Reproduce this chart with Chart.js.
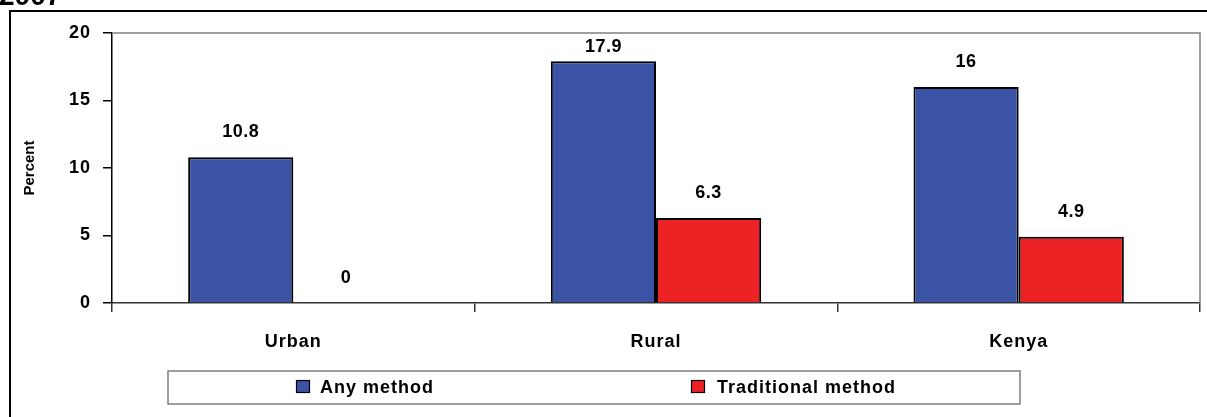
<!DOCTYPE html>
<html>
<head>
<meta charset="utf-8">
<script src="https://cdn.jsdelivr.net/npm/chart.js@4/dist/chart.umd.min.js"></script>
<style>
  html, body { margin: 0; padding: 0; background: #fff; }
  #wrap { width: 1207px; height: 417px; position: relative; }
</style>
</head>
<body>
<div id="wrap"><canvas id="c" width="1207" height="417"></canvas></div>
<script>
// Contraceptive use by residence, 2007
const categories = ['Urban', 'Rural', 'Kenya'];
const seriesNames = ['Any method', 'Traditional method'];
const anyMethod = [10.8, 17.9, 16];
const traditionalMethod = [0, 6.3, 4.9];
const yTicks = [0, 5, 10, 15, 20];
const titleText = '2007';
const axisTitle = 'Percent';

const BLUE = '#3A53A4';
const RED = '#ED2224';
const FONT = '"Liberation Sans", Arial, sans-serif';

// Frame, partially visible heading, plot-area border, value labels, axis title and legend box
const decorations = {
  id: 'decorations',
  beforeDraw(chart) {
    const ctx = chart.ctx;
    ctx.save();
    ctx.fillStyle = '#fff';
    ctx.fillRect(0, 0, chart.width, chart.height);
    // heading (clipped by the top edge)
    ctx.fillStyle = '#000';
    ctx.font = 'bold 28px ' + FONT;
    ctx.textBaseline = 'alphabetic';
    ctx.textAlign = 'left';
    ctx.fillText(titleText, -1, 5);
    // outer frame
    ctx.strokeStyle = '#000';
    ctx.lineWidth = 2;
    ctx.beginPath();
    ctx.moveTo(10, chart.height + 2);
    ctx.lineTo(10, 11);
    ctx.lineTo(chart.width + 2, 11);
    ctx.stroke();
    // y axis title
    const a = chart.chartArea;
    ctx.translate(30, (a.top + a.bottom) / 2);
    ctx.rotate(-Math.PI / 2);
    ctx.font = 'bold 15px ' + FONT;
    ctx.textAlign = 'center';
    ctx.textBaseline = 'middle';
    ctx.fillText(axisTitle, 0, 0);
    ctx.restore();
    chart.ctx.letterSpacing = '1px';
  },
  afterDatasetsDraw(chart) {
    const ctx = chart.ctx;
    const a = chart.chartArea;
    ctx.save();
    // plot area top/right border
    ctx.strokeStyle = '#808080';
    ctx.lineWidth = 1.5;
    ctx.beginPath();
    ctx.moveTo(a.left, a.top);
    ctx.lineTo(a.right, a.top);
    ctx.lineTo(a.right, a.bottom);
    ctx.stroke();
    // value labels, kept inside the plot area
    ctx.fillStyle = '#000';
    ctx.font = 'bold 18px ' + FONT;
    ctx.letterSpacing = '0.5px';
    ctx.textAlign = 'center';
    ctx.textBaseline = 'alphabetic';
    chart.data.datasets.forEach((ds, i) => {
      const meta = chart.getDatasetMeta(i);
      meta.data.forEach((bar, j) => {
        const y = Math.max(bar.y - 20, a.top + 19);
        ctx.fillText(String(ds.data[j]), bar.x, y);
      });
    });
    ctx.restore();
  },
  afterDraw(chart) {
    const ctx = chart.ctx;
    ctx.save();
    // legend
    ctx.strokeStyle = '#808080';
    ctx.lineWidth = 1.5;
    ctx.strokeRect(168, 371, 852, 33);
    const items = [
      { sx: 296, tx: 320 },
      { sx: 691, tx: 717 }
    ];
    ctx.font = 'bold 18px ' + FONT;
    ctx.letterSpacing = '1px';
    ctx.textAlign = 'left';
    ctx.textBaseline = 'alphabetic';
    chart.data.datasets.forEach((ds, i) => {
      const it = items[i];
      ctx.fillStyle = ds.backgroundColor;
      ctx.fillRect(it.sx, 380, 14, 13);
      ctx.strokeStyle = '#000';
      ctx.lineWidth = 1.2;
      ctx.strokeRect(it.sx + 0.5, 380.5, 13, 12);
      ctx.fillStyle = '#000';
      ctx.fillText(ds.label, it.tx, 393);
    });
    ctx.restore();
    chart.ctx.letterSpacing = '0px';
  }
};

new Chart(document.getElementById('c'), {
  type: 'bar',
  data: {
    labels: categories,
    datasets: [
      {
        label: seriesNames[0],
        data: anyMethod,
        backgroundColor: BLUE,
        borderColor: '#000',
        borderWidth: 2
      },
      {
        label: seriesNames[1],
        data: traditionalMethod,
        backgroundColor: RED,
        borderColor: '#000',
        borderWidth: 2
      }
    ]
  },
  options: {
    responsive: false,
    animation: false,
    devicePixelRatio: 1,
    layout: { padding: { top: 33, right: 7, left: 0, bottom: 0 } },
    datasets: {
      bar: { categoryPercentage: 0.58, barPercentage: 1.0 }
    },
    plugins: {
      legend: { display: false },
      tooltip: { enabled: false },
      title: { display: false }
    },
    scales: {
      x: {
        offset: true,
        afterFit(scale) { scale.height = 114; },
        grid: {
          offset: true,
          drawOnChartArea: false,
          drawTicks: true,
          tickLength: 9,
          color: '#333',
          lineWidth: 1.5
        },
        border: { display: true, color: '#333', width: 1.5 },
        ticks: {
          color: '#000',
          padding: 19,
          maxRotation: 0,
          font: { family: FONT, size: 18, weight: 'bold' }
        }
      },
      y: {
        min: 0,
        max: 20,
        afterFit(scale) { scale.width = 112; },
        afterBuildTicks(scale) { scale.ticks = yTicks.map(v => ({ value: v })); },
        grid: {
          drawOnChartArea: false,
          drawTicks: true,
          tickLength: 9,
          color: '#000',
          lineWidth: 1.5
        },
        border: { display: true, color: '#000', width: 1.5 },
        ticks: {
          color: '#000',
          padding: 12,
          font: { family: FONT, size: 18, weight: 'bold' }
        },
        title: { display: false }
      }
    }
  },
  plugins: [decorations]
});
</script>
</body>
</html>
